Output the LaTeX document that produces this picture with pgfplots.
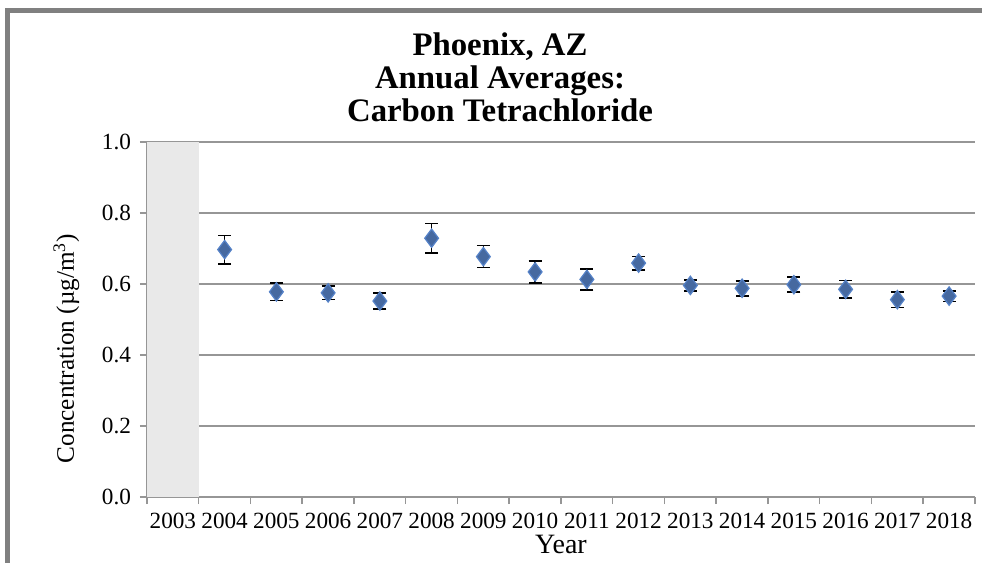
\documentclass[border=0pt]{standalone}
\usepackage{fontspec}
\setmainfont{Liberation Serif}
\usepackage{pgfplots}
\pgfplotsset{compat=1.18}
\definecolor{gridgray}{RGB}{150,150,150}
\definecolor{shade}{RGB}{233,233,233}
\definecolor{framegray}{RGB}{128,128,128}
\definecolor{mkfill}{RGB}{70,105,160}
\definecolor{mkdraw}{RGB}{85,130,200}
\begin{document}
\begin{tikzpicture}
\useasboundingbox (0pt,0pt) rectangle (491pt,281.5pt);
% frame
\draw[framegray, line width=2.5pt] (3.75pt,-10pt) -- (3.75pt,276.25pt) -- (500pt,276.25pt);
\node[font=\bfseries\fontsize{16.4}{16.4}\selectfont, align=center, anchor=center] at (250pt,243pt) {Phoenix, AZ\\Annual Averages:\\Carbon Tetrachloride};
\begin{axis}[
  at={(73.5pt,33pt)}, anchor=south west,
  scale only axis, width=414pt, height=177.5pt,
  xmin=-0.5, xmax=15.5, ymin=0, ymax=1,
  axis lines*=left,
  axis line style={gridgray, line width=0.75pt},
  xtick={-0.5,0.5,...,15.5},
  x tick label as interval,
  xticklabels={2003,2004,2005,2006,2007,2008,2009,2010,2011,2012,2013,2014,2015,2016,2017,2018},
  ytick={0,0.2,...,1.0},
  /pgf/number format/fixed, /pgf/number format/fixed zerofill, /pgf/number format/precision=1, /pgf/number format/assume math mode=true,
  tick align=outside,
  major tick length=3.5pt,
  tick style={gridgray, line width=0.75pt},
  ymajorgrids, grid style={gridgray, line width=0.75pt},
  ticklabel style={font=\fontsize{11.6}{13}\selectfont},
  xticklabel style={yshift=-1pt},
  yticklabel style={xshift=-1pt},
  xlabel={Year}, ylabel={Concentration (µg/m\textsuperscript{3})},
  xlabel style={font=\fontsize{14}{16}\selectfont, yshift=1.5pt, inner ysep=1pt},
  ylabel style={font=\fontsize{12.6}{15}\selectfont, at={(ticklabel cs:0.418)}, yshift=4.5pt},
  clip=false,
]
\addplot[draw=none, fill=shade, forget plot] coordinates {(-0.5,1) (0.5,1)} \closedcycle;
\addplot[only marks, mark=diamond*, mark size=4.6pt,
  mark options={fill=mkfill, draw=mkdraw, line width=0.6pt},
  error bars/.cd, y dir=both, y explicit,
  error bar style={black, line width=0.8pt},
  error mark options={rotate=90, mark size=3.2pt, black, line width=0.8pt}]
coordinates {
(1,0.697) +- (0,0.040)
(2,0.578) +- (0,0.024)
(3,0.575) +- (0,0.019)
(4,0.552) +- (0,0.023)
(5,0.729) +- (0,0.041)
(6,0.677) +- (0,0.031)
(7,0.634) +- (0,0.031)
(8,0.613) +- (0,0.030)
(9,0.659) +- (0,0.019)
(10,0.596) +- (0,0.016)
(11,0.588) +- (0,0.021)
(12,0.598) +- (0,0.021)
(13,0.585) +- (0,0.025)
(14,0.556) +- (0,0.022)
(15,0.566) +- (0,0.015)
};
\end{axis}
\end{tikzpicture}
\end{document}
